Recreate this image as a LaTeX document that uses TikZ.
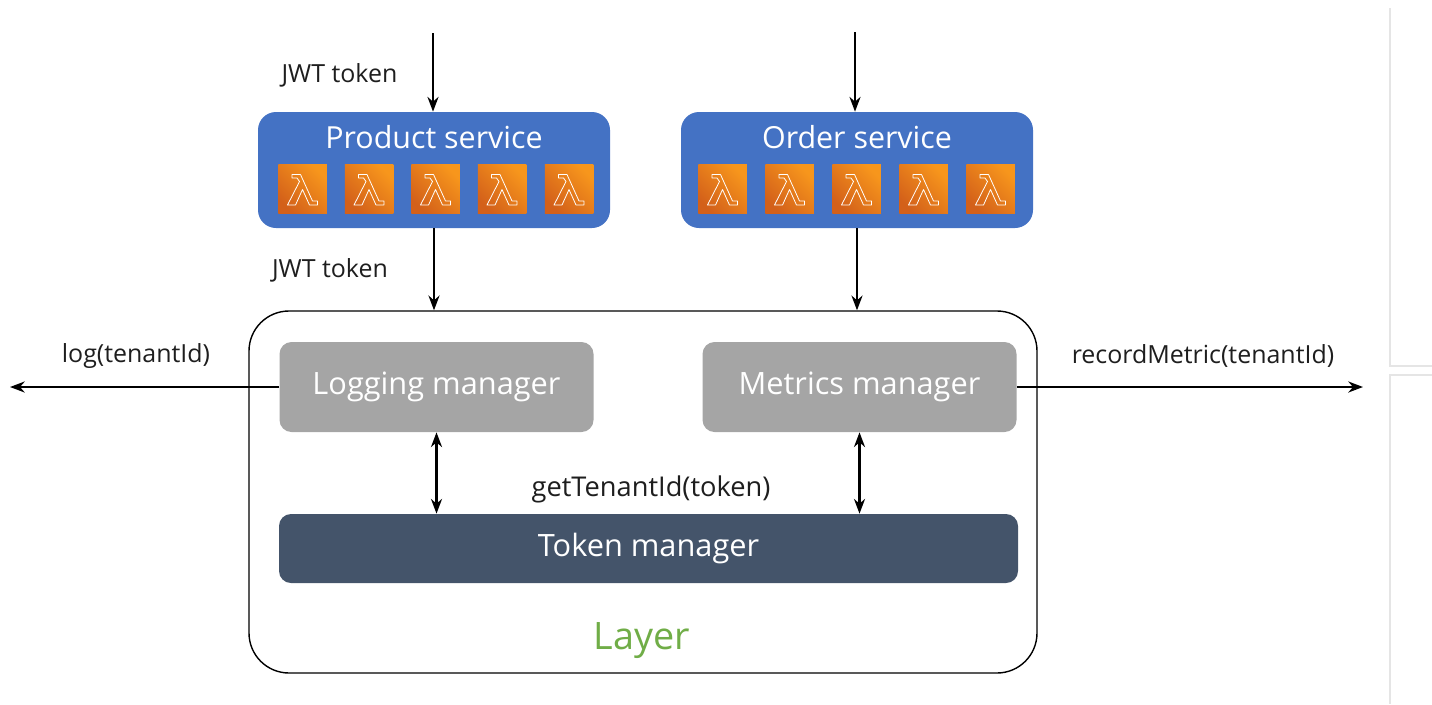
\documentclass[tikz,border=0pt]{standalone}
\usepackage{fontspec}
\setmainfont{Open Sans}
\usetikzlibrary{arrows.meta}
\definecolor{svcblue}{HTML}{4472C4}
\definecolor{mgrgray}{HTML}{A5A5A5}
\definecolor{tokslate}{HTML}{44546A}
\definecolor{layergreen}{HTML}{70AD47}
\definecolor{lamhi}{HTML}{F7961C}
\definecolor{lamlo}{HTML}{D3601A}
\definecolor{inkgray}{HTML}{1E1E1E}
\tikzset{service/.style={fill=svcblue,rounded corners=0.36cm,minimum width=7.04cm,minimum height=2.32cm,inner sep=0pt},
         svctitle/.style={text=white,font=\fontsize{17.3}{20}\selectfont},
         lambda/.pic={
             \shade[bottom color=lamlo,top color=lamhi,shading angle=-45](-0.485,-0.485)rectangle(0.485,0.485);
             \draw[white,line width=0.45pt,line join=round](-0.21,0.29)--(-0.04,0.29)--(0.20,-0.24)--(0.30,-0.24)--(0.30,-0.32)--(0.14,-0.32)
                 --(0.00,-0.01)--(-0.14,-0.32)--(-0.30,-0.32)--(-0.06,0.15)--(-0.11,0.22)--(-0.21,0.22)--cycle;
             },
         manager/.style={fill=mgrgray,rounded corners=0.24cm,minimum width=6.28cm,minimum height=1.80cm,text=white,font=\fontsize{17.5}{20}\selectfont},
         layer/.style={draw,line width=0.8pt,rounded corners=0.8cm,minimum width=15.76cm,minimum height=7.24cm},
         msg/.style={text=inkgray,font=\fontsize{14.2}{17}\selectfont},
         flow/.style={-Stealth,line width=1.2pt},
        }

\begin{document}
\begin{tikzpicture}
        \useasboundingbox(0,0)rectangle(28.64,-14.08);

        \node[service](ps)at(8.68,-3.40){};
        \node[service](os)at(17.14,-3.40){};
        \node[svctitle](pst)at(8.68,-2.74){Product service};
        \node[svctitle](ost)at(17.14,-2.74){Order service};

        \pic at(6.05,-3.78){lambda};
        \pic at(7.38,-3.78){lambda};
        \pic at(8.71,-3.78){lambda};
        \pic at(10.04,-3.78){lambda};
        \pic at(11.38,-3.78){lambda};
        \pic at(14.45,-3.78){lambda};
        \pic at(15.79,-3.78){lambda};
        \pic at(17.13,-3.78){lambda};
        \pic at(18.47,-3.78){lambda};
        \pic at(19.81,-3.78){lambda};

        \node[layer](ly)at(12.86,-9.84){};
        \node[manager](lm)at(8.73,-7.74){Logging manager};
        \node[manager](mm)at(17.19,-7.74){Metrics manager};
        \node[fill=tokslate,rounded corners=0.24cm,minimum width=14.78cm,minimum height=1.38cm,text=white,
              font=\fontsize{17.5}{20}\selectfont](tm)at(12.97,-10.97){Token manager};
        \node[text=layergreen,font=\fontsize{21.5}{25}\selectfont](lyt)at(12.84,-12.82){Layer};

        \coordinate(pin)at(8.66,-0.66);
        \coordinate(oin)at(17.10,-0.64);
        \coordinate(lout)at(0.20,-7.74);
        \coordinate(mout)at(27.26,-7.74);

        \node[msg](jwt1)at(6.79,-1.50){JWT token};
        \node[msg](jwt2)at(6.60,-5.40){JWT token};
        \node[msg](logt)at(2.72,-7.12){log(tenantId)};
        \node[msg](rect)at(24.06,-7.12){recordMetric(tenantId)};
        \node[msg,font=\fontsize{15.5}{18}\selectfont](gtt)at(13.02,-9.78){getTenantId(token)};

        \draw[flow](pin)--(pin|-ps.north);
        \draw[flow](oin)--(oin|-os.north);
        \draw[flow](ps.south)--(ps.south|-ly.north);
        \draw[flow](os.south)--(os.south|-ly.north);
        \draw[flow](lm.west)--(lout);
        \draw[flow](mm.east)--(mout);
        \draw[Stealth-Stealth,line width=1.2pt](lm.south)--(lm.south|-tm.north);
        \draw[Stealth-Stealth,line width=1.2pt](mm.south)--(mm.south|-tm.north);

        % faint frame lines at the right edge
        \draw[gray!20,line width=0.6pt](27.80,-0.16)--(27.80,-7.32)--(28.64,-7.32);
        \draw[gray!20,line width=0.6pt](28.64,-7.50)--(27.80,-7.50)--(27.80,-14.08);
    \end{tikzpicture}
\end{document}
